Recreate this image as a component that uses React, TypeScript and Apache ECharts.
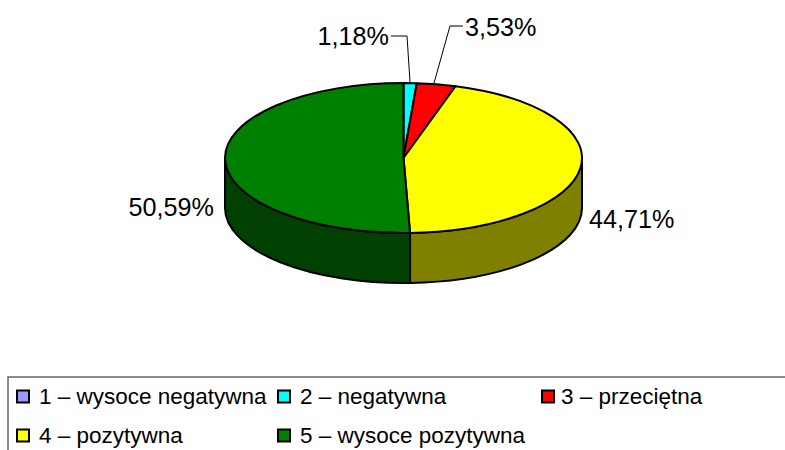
import React, { useEffect, useRef } from "react";
import * as echarts from "echarts";

const categories = ["1 – wysoce negatywna", "2 – negatywna", "3 – przeciętna", "4 – pozytywna", "5 – wysoce pozytywna"];
const values = [0, 1.18, 3.53, 44.71, 50.59];
const topColors = ["#9999FF", "#00FFFF", "#FF0000", "#FFFF00", "#008000"];
const sideColors = ["#4D4D80", "#008080", "#800000", "#808000", "#004000"];

// layout
const CX = 403.5, CY = 158, RX = 178.5, RY = 75, DEPTH = 50;
const FONT = "Liberation Sans";
const labelLayout: any[] = [
  null,
  { x: 389, y: 36, align: "right", line: [[391, 36], [407, 36], [410, 82]] },
  { x: 465, y: 27, align: "left", line: [[463, 26], [450, 26], [434, 83]] },
  { x: 589, y: 219, align: "left" },
  { x: 214, y: 207, align: "right" },
];
const legendPos = [
  { left: 16, top: 385, pad: 5 },
  { left: 277, top: 385, pad: 5 },
  { left: 541, top: 385, pad: 2 },
  { left: 16, top: 424, pad: 5 },
  { left: 277, top: 424, pad: 5 },
];

const pt = (t: number) => [CX + RX * Math.sin(t), CY - RY * Math.cos(t)];

function sliceShapes(i: number) {
  const total = values.reduce((a, b) => a + b, 0);
  const before = values.slice(0, i).reduce((a, b) => a + b, 0);
  const a0 = (before / total) * 2 * Math.PI;
  const a1 = ((before + values[i]) / total) * 2 * Math.PI;
  const children: any[] = [];
  const border = { stroke: "#000", lineWidth: 2, lineJoin: "round" };
  if (values[i] <= 0) return children;
  // visible part of the wall: front half of the ellipse
  const w0 = Math.max(a0, Math.PI / 2), w1 = Math.min(a1, (3 * Math.PI) / 2);
  if (w1 > w0) {
    const p0 = pt(w0), p1 = pt(w1);
    const d = `M${p0[0]} ${p0[1]}A${RX} ${RY} 0 0 1 ${p1[0]} ${p1[1]}L${p1[0]} ${p1[1] + DEPTH}A${RX} ${RY} 0 0 0 ${p0[0]} ${p0[1] + DEPTH}Z`;
    children.push({ type: "path", shape: { pathData: d }, style: { fill: sideColors[i], ...border } });
  }
  const s = pt(a0), e = pt(a1);
  const large = a1 - a0 > Math.PI ? 1 : 0;
  const top = `M${CX} ${CY}L${s[0]} ${s[1]}A${RX} ${RY} 0 ${large} 1 ${e[0]} ${e[1]}Z`;
  children.push({ type: "path", shape: { pathData: top }, style: { fill: topColors[i], ...border } });
  return children;
}

function labelShapes(i: number) {
  const l = labelLayout[i];
  if (!l) return [];
  const out: any[] = [];
  if (l.line) {
    out.push({ type: "polyline", shape: { points: l.line }, style: { fill: "none", stroke: "#000", lineWidth: 1 } });
  }
  out.push({
    type: "text",
    style: {
      text: values[i].toFixed(2).replace(".", ",") + "%",
      x: l.x, y: l.y, align: l.align, verticalAlign: "middle",
      font: `25.2px "${FONT}"`, fill: "#000",
    },
  });
  return out;
}

export default function App() {
  const ref = useRef<HTMLDivElement>(null);
  useEffect(() => {
    const chart = echarts.init(ref.current!, undefined, { renderer: "svg" });
    chart.setOption({
      animation: false,
      backgroundColor: "#fff",
      graphic: [
        { type: "rect", shape: { x: 8, y: 377, width: 800, height: 100 }, style: { fill: "none", stroke: "#666", lineWidth: 1.5 }, silent: true },
      ],
      legend: categories.map((name, i) => ({
        show: true,
        data: [{ name, itemStyle: { color: topColors[i], borderColor: "#000", borderWidth: 2 } }],
        left: legendPos[i].left,
        top: legendPos[i].top,
        orient: "horizontal",
        padding: 0,
        icon: "rect",
        itemWidth: 12,
        itemHeight: 12,
        itemGap: 0,
        selectedMode: false,
        textStyle: { fontFamily: FONT, fontSize: 22.5, color: "#000", padding: [0, 0, 0, legendPos[i].pad] },
      })),
      series: categories.map((name, i) => ({
        type: "custom",
        name,
        coordinateSystem: "none",
        silent: true,
        itemStyle: { color: topColors[i] },
        data: [values[i]],
        renderItem: () => ({ type: "group", children: [...sliceShapes(i), ...labelShapes(i)] }),
      })),
    });
    return () => chart.dispose();
  }, []);
  return <div ref={ref} style={{ position: "fixed", left: 0, top: 0, width: 785, height: 450 }} />;
}
